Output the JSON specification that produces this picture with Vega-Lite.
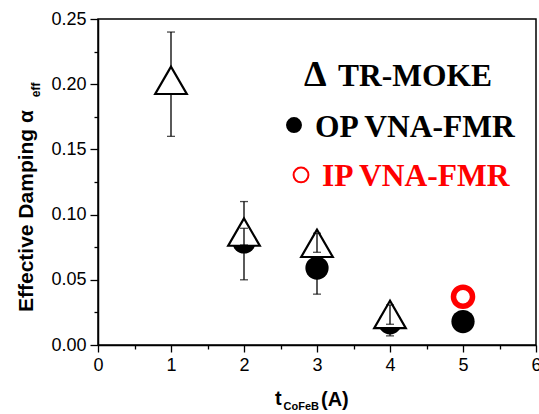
{
  "$schema": "https://vega.github.io/schema/vega-lite/v6.json",
  "width": 438,
  "height": 326,
  "autosize": "none",
  "padding": {"left": 98, "top": 19, "right": 3, "bottom": 69},
  "background": "white",
  "config": {
    "view": {"stroke": "black", "strokeWidth": 1.5},
    "axis": {
      "domainColor": "black",
      "domainWidth": 1.5,
      "tickColor": "black",
      "tickWidth": 1.3,
      "grid": false,
      "labelFont": "Liberation Sans",
      "labelFontSize": 18,
      "labelColor": "black",
      "title": null
    },
    "text": {"font": "Liberation Sans", "fontWeight": "bold", "align": "left", "baseline": "alphabetic", "color": "black"}
  },
  "datasets": {
    "trMoke": [
      {"t": 1, "a": 0.203},
      {"t": 2, "a": 0.0866},
      {"t": 3, "a": 0.078},
      {"t": 4, "a": 0.0234}
    ],
    "opFmr": [
      {"t": 2, "a": 0.079},
      {"t": 3, "a": 0.059},
      {"t": 4, "a": 0.017},
      {"t": 5, "a": 0.018}
    ],
    "ipFmr": [
      {"t": 5, "a": 0.037}
    ],
    "barsBack": [
      {"t": 1, "lo": 0.16, "hi": 0.24},
      {"t": 2, "lo": 0.05, "hi": 0.11},
      {"t": 3, "lo": 0.039, "hi": 0.079},
      {"t": 4, "lo": 0.007, "hi": 0.027}
    ],
    "barsFront": [
      {"t": 2, "lo": 0.0767, "hi": 0.0895},
      {"t": 3, "lo": 0.0711, "hi": 0.0857},
      {"t": 4, "lo": 0.0159, "hi": 0.0307}
    ],
    "keyDot": [{"t": 2.685, "a": 0.1687}],
    "keyRing": [{"t": 2.781, "a": 0.1304}],
    "keyDelta": [{"t": 2.822, "a": 0.1986, "label": "Δ"}],
    "keyBlack": [
      {"t": 3.288, "a": 0.1986, "label": "TR-MOKE"},
      {"t": 2.973, "a": 0.1597, "label": "OP VNA-FMR"}
    ],
    "keyRed": [{"t": 3.068, "a": 0.1222, "label": "IP VNA-FMR"}],
    "titleBig": [
      {"t": 2.425, "a": -0.046, "label": "t"},
      {"t": 3.055, "a": -0.0468, "label": "(A)"}
    ],
    "titleSub": [{"t": 2.541, "a": -0.0498, "label": "CoFeB"}],
    "yTitle": [{"t": -0.897, "a": 0.0253, "label": "Effective Damping α"}],
    "yTitleSub": [{"t": -0.795, "a": 0.19, "label": "eff"}]
  },
  "resolve": {"axis": {"x": "independent", "y": "independent"}},
  "layer": [
    {
      "data": {"name": "opFmr"},
      "mark": {"type": "point", "opacity": 0},
      "encoding": {
        "x": {"field": "t", "type": "quantitative",
              "scale": {"domain": [0, 6], "nice": false, "zero": false},
              "axis": {"values": [0, 1, 2, 3, 4, 5, 6], "tickSize": 7, "labelPadding": 4, "labelFlush": false, "orient": "bottom"}},
        "y": {"field": "a", "type": "quantitative",
              "scale": {"domain": [0, 0.25], "nice": false, "zero": false},
              "axis": {"values": [0, 0.05, 0.1, 0.15, 0.2, 0.25], "format": ".2f", "tickSize": 8, "labelPadding": 4, "labelFlush": false, "orient": "left"}}
      }
    },
    {
      "data": {"name": "opFmr"},
      "mark": {"type": "point", "opacity": 0},
      "encoding": {
        "x": {"field": "t", "type": "quantitative",
              "scale": {"domain": [0, 6], "nice": false, "zero": false},
              "axis": {"values": [0.5, 1.5, 2.5, 3.5, 4.5, 5.5], "labels": false, "domain": false, "tickSize": 4, "orient": "bottom"}},
        "y": {"field": "a", "type": "quantitative",
              "scale": {"domain": [0, 0.25], "nice": false, "zero": false},
              "axis": {"values": [0.025, 0.075, 0.125, 0.175, 0.225], "labels": false, "domain": false, "tickSize": 4, "orient": "left"}}
      }
    },
    {
      "data": {"name": "barsBack"},
      "mark": {"type": "errorbar", "ticks": {"size": 8, "thickness": 1.3, "color": "black"}, "rule": {"strokeWidth": 1.3, "color": "black"}},
      "encoding": {
        "x": {"field": "t", "type": "quantitative", "scale": {"domain": [0, 6], "nice": false, "zero": false}, "axis": null},
        "y": {"field": "lo", "type": "quantitative", "scale": {"domain": [0, 0.25], "nice": false, "zero": false}, "axis": null},
        "y2": {"field": "hi"}
      }
    },
    {
      "data": {"name": "opFmr"},
      "mark": {"type": "point", "shape": "circle", "filled": true, "color": "black", "opacity": 1, "size": 540},
      "encoding": {
        "x": {"field": "t", "type": "quantitative", "scale": {"domain": [0, 6], "nice": false, "zero": false}, "axis": null},
        "y": {"field": "a", "type": "quantitative", "scale": {"domain": [0, 0.25], "nice": false, "zero": false}, "axis": null}
      }
    },
    {
      "data": {"name": "ipFmr"},
      "mark": {"type": "point", "shape": "circle", "filled": false, "stroke": "#ff0000", "strokeWidth": 5.5, "opacity": 1, "size": 363},
      "encoding": {
        "x": {"field": "t", "type": "quantitative", "scale": {"domain": [0, 6], "nice": false, "zero": false}, "axis": null},
        "y": {"field": "a", "type": "quantitative", "scale": {"domain": [0, 0.25], "nice": false, "zero": false}, "axis": null}
      }
    },
    {
      "data": {"name": "trMoke"},
      "mark": {"type": "point", "shape": "triangle-up", "filled": true, "fill": "white", "stroke": "black", "strokeWidth": 2.2, "opacity": 1, "fillOpacity": 1, "size": 1000},
      "encoding": {
        "x": {"field": "t", "type": "quantitative", "scale": {"domain": [0, 6], "nice": false, "zero": false}, "axis": null},
        "y": {"field": "a", "type": "quantitative", "scale": {"domain": [0, 0.25], "nice": false, "zero": false}, "axis": null}
      }
    },
    {
      "data": {"name": "barsFront"},
      "mark": {"type": "errorbar", "ticks": {"size": 8, "thickness": 1.3, "color": "black"}, "rule": {"strokeWidth": 1.3, "color": "black"}},
      "encoding": {
        "x": {"field": "t", "type": "quantitative", "scale": {"domain": [0, 6], "nice": false, "zero": false}, "axis": null},
        "y": {"field": "lo", "type": "quantitative", "scale": {"domain": [0, 0.25], "nice": false, "zero": false}, "axis": null},
        "y2": {"field": "hi"}
      }
    },
    {
      "data": {"name": "keyDot"},
      "mark": {"type": "point", "shape": "circle", "filled": true, "color": "black", "opacity": 1, "size": 254},
      "encoding": {
        "x": {"field": "t", "type": "quantitative", "scale": {"domain": [0, 6], "nice": false, "zero": false}, "axis": null},
        "y": {"field": "a", "type": "quantitative", "scale": {"domain": [0, 0.25], "nice": false, "zero": false}, "axis": null}
      }
    },
    {
      "data": {"name": "keyRing"},
      "mark": {"type": "point", "shape": "circle", "filled": false, "stroke": "#ff0000", "strokeWidth": 2, "opacity": 1, "size": 220},
      "encoding": {
        "x": {"field": "t", "type": "quantitative", "scale": {"domain": [0, 6], "nice": false, "zero": false}, "axis": null},
        "y": {"field": "a", "type": "quantitative", "scale": {"domain": [0, 0.25], "nice": false, "zero": false}, "axis": null}
      }
    },
    {
      "data": {"name": "keyDelta"},
      "mark": {"type": "text", "font": "Liberation Serif", "fontWeight": "bold", "fontSize": 36, "color": "black"},
      "encoding": {
        "x": {"field": "t", "type": "quantitative", "scale": {"domain": [0, 6], "nice": false, "zero": false}, "axis": null},
        "y": {"field": "a", "type": "quantitative", "scale": {"domain": [0, 0.25], "nice": false, "zero": false}, "axis": null},
        "text": {"field": "label"}
      }
    },
    {
      "data": {"name": "keyBlack"},
      "mark": {"type": "text", "font": "Liberation Serif", "fontWeight": "bold", "fontSize": 31.5, "color": "black"},
      "encoding": {
        "x": {"field": "t", "type": "quantitative", "scale": {"domain": [0, 6], "nice": false, "zero": false}, "axis": null},
        "y": {"field": "a", "type": "quantitative", "scale": {"domain": [0, 0.25], "nice": false, "zero": false}, "axis": null},
        "text": {"field": "label"}
      }
    },
    {
      "data": {"name": "keyRed"},
      "mark": {"type": "text", "font": "Liberation Serif", "fontWeight": "bold", "fontSize": 31.5, "color": "#ff0000"},
      "encoding": {
        "x": {"field": "t", "type": "quantitative", "scale": {"domain": [0, 6], "nice": false, "zero": false}, "axis": null},
        "y": {"field": "a", "type": "quantitative", "scale": {"domain": [0, 0.25], "nice": false, "zero": false}, "axis": null},
        "text": {"field": "label"}
      }
    },
    {
      "data": {"name": "titleBig"},
      "mark": {"type": "text", "fontSize": 20},
      "encoding": {
        "x": {"field": "t", "type": "quantitative", "scale": {"domain": [0, 6], "nice": false, "zero": false}, "axis": null},
        "y": {"field": "a", "type": "quantitative", "scale": {"domain": [0, 0.25], "nice": false, "zero": false}, "axis": null},
        "text": {"field": "label"}
      }
    },
    {
      "data": {"name": "titleSub"},
      "mark": {"type": "text", "fontSize": 11},
      "encoding": {
        "x": {"field": "t", "type": "quantitative", "scale": {"domain": [0, 6], "nice": false, "zero": false}, "axis": null},
        "y": {"field": "a", "type": "quantitative", "scale": {"domain": [0, 0.25], "nice": false, "zero": false}, "axis": null},
        "text": {"field": "label"}
      }
    },
    {
      "data": {"name": "yTitle"},
      "mark": {"type": "text", "fontSize": 21, "angle": 270},
      "encoding": {
        "x": {"field": "t", "type": "quantitative", "scale": {"domain": [0, 6], "nice": false, "zero": false}, "axis": null},
        "y": {"field": "a", "type": "quantitative", "scale": {"domain": [0, 0.25], "nice": false, "zero": false}, "axis": null},
        "text": {"field": "label"}
      }
    },
    {
      "data": {"name": "yTitleSub"},
      "mark": {"type": "text", "fontSize": 12, "angle": 270},
      "encoding": {
        "x": {"field": "t", "type": "quantitative", "scale": {"domain": [0, 6], "nice": false, "zero": false}, "axis": null},
        "y": {"field": "a", "type": "quantitative", "scale": {"domain": [0, 0.25], "nice": false, "zero": false}, "axis": null},
        "text": {"field": "label"}
      }
    }
  ]
}
